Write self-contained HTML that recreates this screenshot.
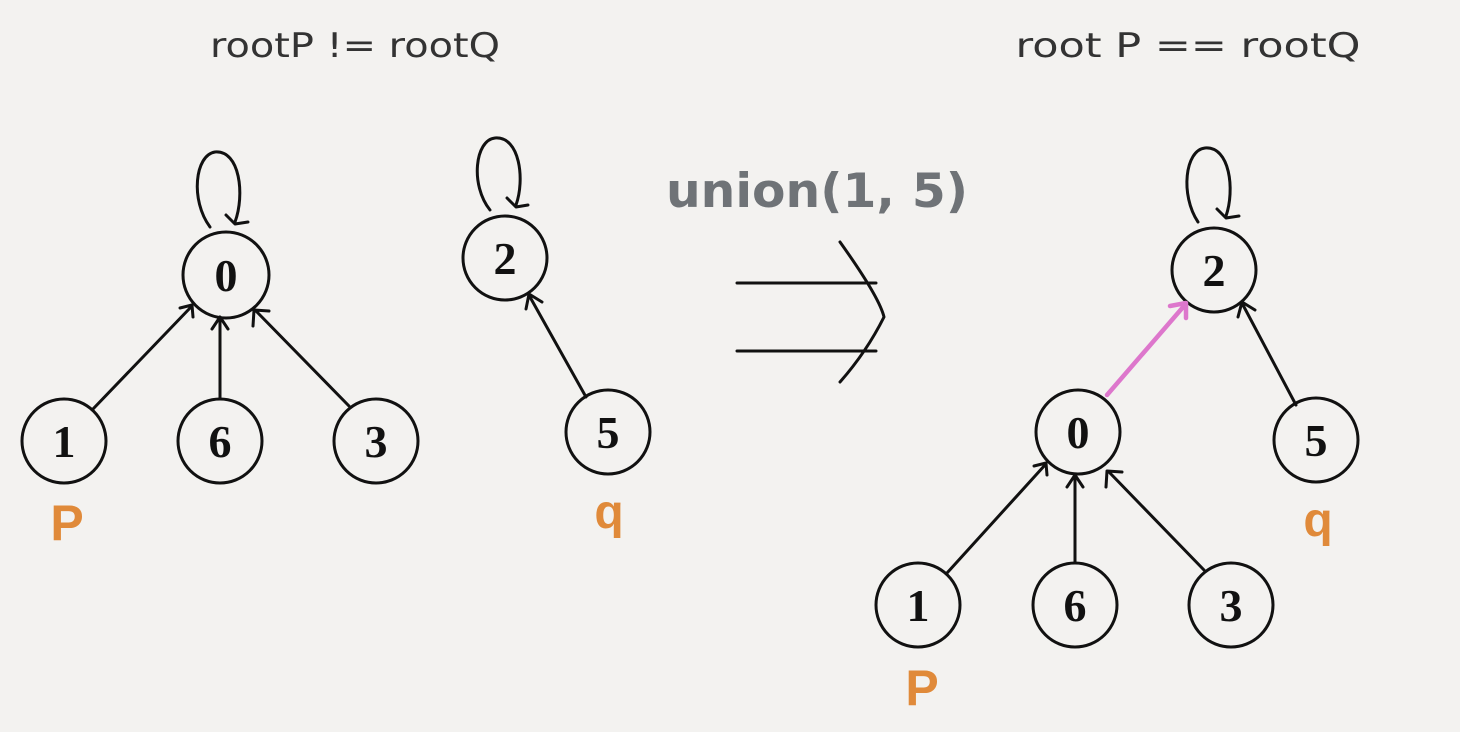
<!DOCTYPE html>
<html><head><meta charset="utf-8"><style>
html,body{margin:0;padding:0;background:#f3f2f0;}
svg{display:block}
.n{fill:none;stroke:#111;stroke-width:3}
.e{stroke:#111;stroke-width:3;fill:none;stroke-linecap:round;stroke-linejoin:round}
.t{font-family:"Liberation Serif",serif;font-size:46px;fill:#111;text-anchor:middle;font-weight:bold}
.h{font-family:"DejaVu Sans","Liberation Sans",sans-serif;font-size:34px;fill:#333;text-anchor:middle}
.o{font-family:"Liberation Sans",sans-serif;font-size:50px;fill:#e08a3a;text-anchor:middle;font-weight:bold}
</style></head><body>
<svg width="1460" height="732" viewBox="0 0 1460 732">
<rect width="1460" height="732" fill="#f3f2f0"/>
<text class="h" x="355" y="57" textLength="290" lengthAdjust="spacingAndGlyphs">rootP != rootQ</text>
<text class="h" x="1188" y="57" textLength="345" lengthAdjust="spacingAndGlyphs">root P == rootQ</text>
<text x="817" y="207" font-family="DejaVu Sans,Liberation Sans,sans-serif" font-weight="bold" font-size="47" fill="#6f7377" text-anchor="middle" textLength="302" lengthAdjust="spacingAndGlyphs">union(1, 5)</text>

<!-- left tree -->
<circle class="n" cx="226" cy="275" r="43"/><text class="t" x="226" y="291">0</text>
<circle class="n" cx="64" cy="441" r="42"/><text class="t" x="64" y="457">1</text>
<circle class="n" cx="220" cy="441" r="42"/><text class="t" x="220" y="457">6</text>
<circle class="n" cx="376" cy="441" r="42"/><text class="t" x="376" y="457">3</text>
<path class="e" d="M210 227 C190 200,195 155,215 152 C240 150,245 195,235 222 M226 215 L235 224 L248 222"/>
<path class="e" d="M93 409 L191 307 M180 308 L192 305 L193 317"/>
<path class="e" d="M220 399 L220 318 M212 329 L220 317 L228 329"/>
<path class="e" d="M349 406 L256 311 M253 326 L254 310 L269 311"/>
<text class="o" x="67" y="540">P</text>

<circle class="n" cx="505" cy="258" r="42"/><text class="t" x="505" y="274">2</text>
<circle class="n" cx="608" cy="432" r="42"/><text class="t" x="608" y="448">5</text>
<path class="e" d="M490 210 C470 185,475 140,495 138 C520 136,525 180,516 205 M507 198 L516 207 L528 205"/>
<path class="e" d="M586 397 L530 297 M526 309 L529 294 L542 302"/>
<text class="o" x="609" y="528" style="font-size:48px">q</text>

<!-- arrow -->
<path class="e" d="M737 283 L876 283 M737 351 L876 351 M840 242 C860 270,880 300,884 317 C870 345,855 365,840 382" stroke-width="3.4"/>

<!-- right tree -->
<circle class="n" cx="1214" cy="270" r="42"/><text class="t" x="1214" y="286">2</text>
<path class="e" d="M1198 222 C1180 195,1185 150,1205 148 C1230 146,1235 190,1226 216 M1217 209 L1226 218 L1239 216"/>
<circle class="n" cx="1316" cy="440" r="42"/><text class="t" x="1316" y="456">5</text>
<path class="e" d="M1296 405 L1243 305 M1238 317 L1242 302 L1255 310"/>
<text class="o" x="1318" y="536" style="font-size:48px">q</text>
<circle class="n" cx="1078" cy="432" r="42"/><text class="t" x="1078" y="448">0</text>
<path d="M1107 395 L1184 306 M1170 306 L1186 303 L1186 318" stroke="#dd77cc" stroke-width="4.5" fill="none" stroke-linecap="round" stroke-linejoin="round"/>
<circle class="n" cx="918" cy="605" r="42"/><text class="t" x="918" y="621">1</text>
<circle class="n" cx="1075" cy="605" r="42"/><text class="t" x="1075" y="621">6</text>
<circle class="n" cx="1231" cy="605" r="42"/><text class="t" x="1231" y="621">3</text>
<path class="e" d="M947 573 L1045 465 M1034 466 L1046 463 L1047 475"/>
<path class="e" d="M1075 563 L1075 476 M1067 487 L1075 475 L1083 487"/>
<path class="e" d="M1204 570 L1109 472 M1106 487 L1107 471 L1122 472"/>
<text class="o" x="922" y="705">P</text>
</svg>
</body></html>
